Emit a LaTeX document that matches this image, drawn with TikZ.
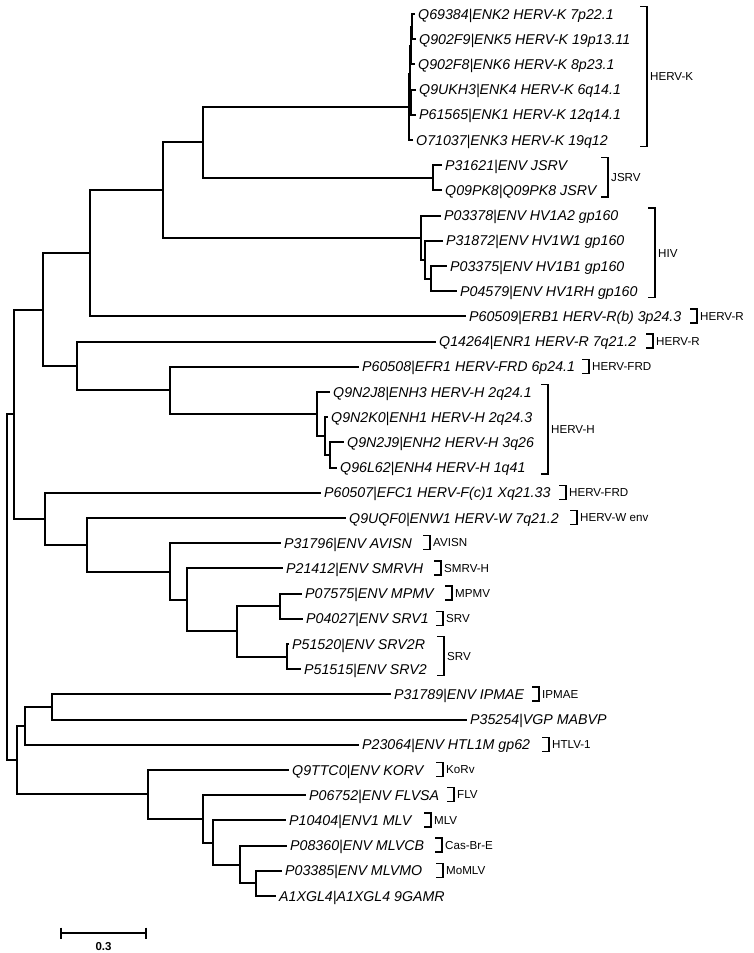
\documentclass[tikz,border=0pt]{standalone}
\usepackage{fontspec}
\setmainfont{Liberation Sans}

\begin{document}
\begin{tikzpicture}[
  x=1pt, y=-1pt,
  branch/.style={line width=2pt},
  bracket/.style={line width=1.4pt},
  leaf/.style={anchor=west, inner xsep=3.5pt, inner ysep=0pt,
               text height=10.2pt, text depth=0pt,
               font=\fontsize{14.2}{16}\selectfont\itshape},
  grp/.style={anchor=west, inner xsep=3pt, inner ysep=0pt,
              text height=8.3pt, text depth=0pt,
              font=\fontsize{11.6}{13}\selectfont},
]
\useasboundingbox (0,0) rectangle (753,953);

%% ── Leaves (one row each, 25.2 px apart) ────────────────────────────────────
\node[leaf] (q69384) at (414.5,  14.0) {Q69384|ENK2 HERV-K 7p22.1};
\node[leaf] (q902f9) at (415.5,  39.2) {Q902F9|ENK5 HERV-K 19p13.11};
\node[leaf] (q902f8) at (414.5,  64.4) {Q902F8|ENK6 HERV-K 8p23.1};
\node[leaf] (q9ukh3) at (415.5,  89.6) {Q9UKH3|ENK4 HERV-K 6q14.1};
\node[leaf] (p61565) at (415.5, 114.8) {P61565|ENK1 HERV-K 12q14.1};
\node[leaf] (o71037) at (412.5, 140.0) {O71037|ENK3 HERV-K 19q12};
\node[leaf] (p31621) at (441.5, 165.2) {P31621|ENV JSRV};
\node[leaf] (q09pk8) at (441.5, 190.4) {Q09PK8|Q09PK8 JSRV};
\node[leaf] (p03378) at (440.5, 215.6) {P03378|ENV HV1A2 gp160};
\node[leaf] (p31872) at (442.5, 240.8) {P31872|ENV HV1W1 gp160};
\node[leaf] (p03375) at (446.5, 266.0) {P03375|ENV HV1B1 gp160};
\node[leaf] (p04579) at (456.5, 291.2) {P04579|ENV HV1RH gp160};
\node[leaf] (p60509) at (465.5, 316.4) {P60509|ERB1 HERV-R(b) 3p24.3};
\node[leaf] (q14264) at (435.5, 341.6) {Q14264|ENR1 HERV-R 7q21.2};
\node[leaf] (p60508) at (358.5, 366.8) {P60508|EFR1 HERV-FRD 6p24.1};
\node[leaf] (q9n2j8) at (329.5, 392.0) {Q9N2J8|ENH3 HERV-H 2q24.1};
\node[leaf] (q9n2k0) at (327.5, 417.2) {Q9N2K0|ENH1 HERV-H 2q24.3};
\node[leaf] (q9n2j9) at (343.5, 442.4) {Q9N2J9|ENH2 HERV-H 3q26};
\node[leaf] (q96l62) at (336.5, 467.6) {Q96L62|ENH4 HERV-H 1q41};
\node[leaf] (p60507) at (320.5, 492.8) {P60507|EFC1 HERV-F(c)1 Xq21.33};
\node[leaf] (q9uqf0) at (345.5, 518.0) {Q9UQF0|ENW1 HERV-W 7q21.2};
\node[leaf] (p31796) at (280.5, 543.2) {P31796|ENV AVISN};
\node[leaf] (p21412) at (282.5, 568.4) {P21412|ENV SMRVH};
\node[leaf] (p07575) at (301.5, 593.6) {P07575|ENV MPMV};
\node[leaf] (p04027) at (302.5, 618.8) {P04027|ENV SRV1};
\node[leaf] (p51520) at (288.5, 644.0) {P51520|ENV SRV2R};
\node[leaf] (p51515) at (300.5, 669.2) {P51515|ENV SRV2};
\node[leaf] (p31789) at (390.5, 694.4) {P31789|ENV IPMAE};
\node[leaf] (p35254) at (466.5, 719.6) {P35254|VGP MABVP};
\node[leaf] (p23064) at (358.5, 744.8) {P23064|ENV HTL1M gp62};
\node[leaf] (q9ttc0) at (288.5, 770.0) {Q9TTC0|ENV KORV};
\node[leaf] (p06752) at (305.5, 795.2) {P06752|ENV FLVSA};
\node[leaf] (p10404) at (285.5, 820.4) {P10404|ENV1 MLV};
\node[leaf] (p08360) at (286.5, 845.6) {P08360|ENV MLVCB};
\node[leaf] (p03385) at (281.5, 870.8) {P03385|ENV MLVMO};
\node[leaf] (a1xgl4) at (275.5, 896.0) {A1XGL4|A1XGL4 9GAMR};

%% ── Internal nodes ───────────────────────────────────────────────────────────
\coordinate (k2)  at (411.5,  26.6);
\coordinate (k2b) at (410.5,  45.5);
\coordinate (k3)  at (411.0, 102.2);
\coordinate (k1)  at (410.0,  73.9);
\coordinate (k0)  at (409.0, 106.9);
\coordinate (js)  at (433.0, 177.8);
\coordinate (hv3) at (431.0, 278.6);
\coordinate (hv2) at (425.0, 259.7);
\coordinate (hv1) at (421.0, 237.7);
\coordinate (nY)  at (203.0, 142.4);
\coordinate (nX)  at (163.0, 190.0);
\coordinate (nR)  at ( 90.0, 253.2);
\coordinate (hh3) at (330.0, 455.0);
\coordinate (hh2) at (325.0, 436.1);
\coordinate (hh1) at (317.0, 414.1);
\coordinate (nT)  at (170.0, 390.4);
\coordinate (nS)  at ( 77.0, 366.0);
\coordinate (nB)  at ( 43.0, 309.6);
\coordinate (sP)  at (280.0, 606.2);
\coordinate (sQ)  at (287.0, 656.6);
\coordinate (sO)  at (237.0, 631.4);
\coordinate (nN)  at (187.0, 599.9);
\coordinate (nM)  at (170.0, 571.6);
\coordinate (nL)  at ( 87.0, 544.8);
\coordinate (nC)  at ( 45.0, 518.8);
\coordinate (nA)  at ( 14.0, 414.2);
\coordinate (mK)  at (256.0, 883.4);
\coordinate (mJ)  at (240.0, 864.5);
\coordinate (mI)  at (213.0, 842.5);
\coordinate (mH)  at (203.0, 818.8);
\coordinate (nF)  at (148.0, 794.4);
\coordinate (nG)  at ( 52.0, 707.0);
\coordinate (nE)  at ( 25.0, 725.9);
\coordinate (nD)  at ( 17.0, 760.2);
\coordinate (root) at (7.0, 587.2);

%% ── Branches ─────────────────────────────────────────────────────────────────
% HERV-K
\draw[branch] (k2) |- (q69384.west) (k2) |- (q902f9.west);
\draw[branch] (k2b) |- (k2) (k2b) |- (q902f8.west);
\draw[branch] (k3) |- (q9ukh3.west) (k3) |- (p61565.west);
\draw[branch] (k1) |- (k2b) (k1) |- (k3);
\draw[branch] (k0) |- (k1) (k0) |- (o71037.west);

% JSRV, HIV
\draw[branch] (js) |- (p31621.west) (js) |- (q09pk8.west);
\draw[branch] (hv3) |- (p03375.west) (hv3) |- (p04579.west);
\draw[branch] (hv2) |- (p31872.west) (hv2) |- (hv3);
\draw[branch] (hv1) |- (p03378.west) (hv1) |- (hv2);
\draw[branch] (nY) |- (k0) (nY) |- (js);
\draw[branch] (nX) |- (nY) (nX) |- (hv1);
\draw[branch] (nR) |- (nX) (nR) |- (p60509.west);

% HERV-R / HERV-FRD / HERV-H
\draw[branch] (hh3) |- (q9n2j9.west) (hh3) |- (q96l62.west);
\draw[branch] (hh2) |- (q9n2k0.west) (hh2) |- (hh3);
\draw[branch] (hh1) |- (q9n2j8.west) (hh1) |- (hh2);
\draw[branch] (nT) |- (p60508.west) (nT) |- (hh1);
\draw[branch] (nS) |- (q14264.west) (nS) |- (nT);
\draw[branch] (nB) |- (nR) (nB) |- (nS);

% HERV-FRD / HERV-W / SRV group
\draw[branch] (sP) |- (p07575.west) (sP) |- (p04027.west);
\draw[branch] (sQ) |- (p51520.west) (sQ) |- (p51515.west);
\draw[branch] (sO) |- (sP) (sO) |- (sQ);
\draw[branch] (nN) |- (p21412.west) (nN) |- (sO);
\draw[branch] (nM) |- (p31796.west) (nM) |- (nN);
\draw[branch] (nL) |- (q9uqf0.west) (nL) |- (nM);
\draw[branch] (nC) |- (p60507.west) (nC) |- (nL);
\draw[branch] (nA) |- (nB) (nA) |- (nC);

% IPMAE / HTLV / MLV group
\draw[branch] (mK) |- (p03385.west) (mK) |- (a1xgl4.west);
\draw[branch] (mJ) |- (p08360.west) (mJ) |- (mK);
\draw[branch] (mI) |- (p10404.west) (mI) |- (mJ);
\draw[branch] (mH) |- (p06752.west) (mH) |- (mI);
\draw[branch] (nF) |- (q9ttc0.west) (nF) |- (mH);
\draw[branch] (nG) |- (p31789.west) (nG) |- (p35254.west);
\draw[branch] (nE) |- (nG) (nE) |- (p23064.west);
\draw[branch] (nD) |- (nE) (nD) |- (nF);

% root
\draw[branch] (root) |- (nA) (root) |- (nD);

%% ── Group brackets ───────────────────────────────────────────────────────────
\draw[bracket] (640,6.5) -| (647,146.5) -- ++(-7,0);
\node[grp] (gHervK) at (647,76.5) {HERV-K};
\draw[bracket] (601,157.7) -| (608,196.9) -- ++(-7,0);
\node[grp] (gJsrv) at (608,177.3) {JSRV};
\draw[bracket] (648,208.1) -| (655,297.7) -- ++(-7,0);
\node[grp] (gHiv) at (655,252.9) {HIV};
\draw[bracket] (690,308.9) -| (697,322.9) -- ++(-7,0);
\node[grp] (gHervRb) at (697,315.9) {HERV-R};
\draw[bracket] (646,334.1) -| (653,348.1) -- ++(-7,0);
\node[grp] (gHervR) at (653,341.1) {HERV-R};
\draw[bracket] (582,359.3) -| (589,373.3) -- ++(-7,0);
\node[grp] (gFrd) at (589,366.3) {HERV-FRD};
\draw[bracket] (541,384.5) -| (548,474.1) -- ++(-7,0);
\node[grp] (gHervH) at (548,429.3) {HERV-H};
\draw[bracket] (559,485.3) -| (566,499.3) -- ++(-7,0);
\node[grp] (gFrdc) at (566,492.3) {HERV-FRD};
\draw[bracket] (570,510.5) -| (577,524.5) -- ++(-7,0);
\node[grp] (gHervW) at (577,517.5) {HERV-W env};
\draw[bracket] (423,535.7) -| (430,549.7) -- ++(-7,0);
\node[grp] (gAvisn) at (430,542.7) {AVISN};
\draw[bracket] (434,560.9) -| (441,574.9) -- ++(-7,0);
\node[grp] (gSmrv) at (441,567.9) {SMRV-H};
\draw[bracket] (445,586.1) -| (452,600.1) -- ++(-7,0);
\node[grp] (gMpmv) at (452,593.1) {MPMV};
\draw[bracket] (436,611.3) -| (443,625.3) -- ++(-7,0);
\node[grp] (gSrvA) at (443,618.3) {SRV};
\draw[bracket] (437,636.5) -| (444,675.7) -- ++(-7,0);
\node[grp] (gSrvB) at (444,656.1) {SRV};
\draw[bracket] (532,686.9) -| (539,700.9) -- ++(-7,0);
\node[grp] (gIpmae) at (539,693.9) {IPMAE};
\draw[bracket] (542,737.3) -| (549,751.3) -- ++(-7,0);
\node[grp] (gHtlv) at (549,744.3) {HTLV-1};
\draw[bracket] (436,762.5) -| (443,776.5) -- ++(-7,0);
\node[grp] (gKorv) at (443,769.5) {KoRv};
\draw[bracket] (447,787.7) -| (454,801.7) -- ++(-7,0);
\node[grp] (gFlv) at (454,794.7) {FLV};
\draw[bracket] (424,812.9) -| (431,826.9) -- ++(-7,0);
\node[grp] (gMlv) at (431,819.9) {MLV};
\draw[bracket] (435,838.1) -| (442,852.1) -- ++(-7,0);
\node[grp] (gCasbr) at (442,845.1) {Cas-Br-E};
\draw[bracket] (436,863.3) -| (443,877.3) -- ++(-7,0);
\node[grp] (gMomlv) at (443,870.3) {MoMLV};

%% ── Scale bar ────────────────────────────────────────────────────────────────
\coordinate (sbl) at (61,933);
\coordinate (sbr) at (146,933);
\draw[branch] (sbl) -- (sbr);
\draw[branch] ([yshift=5.5pt]sbl) -- ([yshift=-5.5pt]sbl);
\draw[branch] ([yshift=5.5pt]sbr) -- ([yshift=-5.5pt]sbr);
\node[font=\fontsize{11.5}{13}\selectfont\bfseries] (sblabel) at (103.5,946.5) {0.3};

\end{tikzpicture}
\end{document}
